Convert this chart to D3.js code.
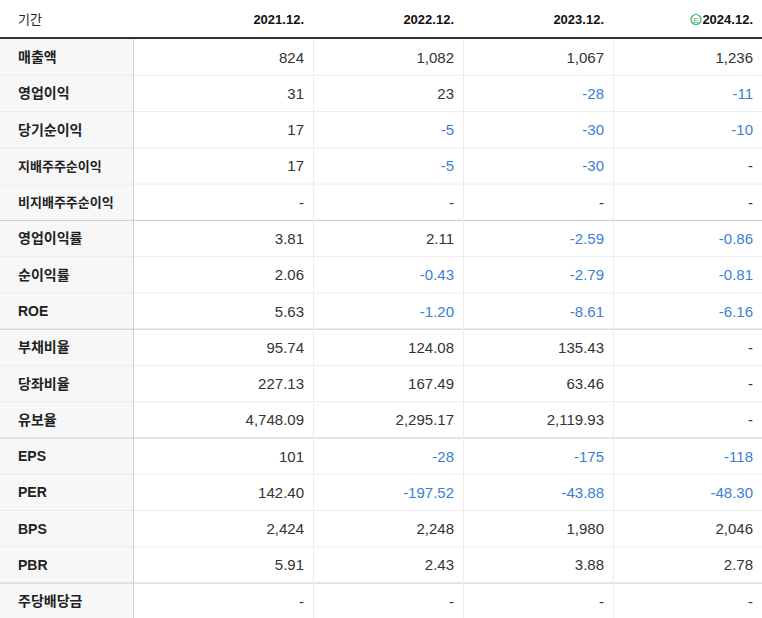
<!DOCTYPE html>
<html><head><meta charset="utf-8">
<script src="https://cdn.jsdelivr.net/npm/d3@7"></script>
<style>body{margin:0;background:#fff}</style></head>
<body><svg id="c" width="762" height="618"></svg>
<script>
const periods=["2021.12.","2022.12.","2023.12.","2024.12."];
const rowLabels=["매출액","영업이익","당기순이익","지배주주순이익","비지배주주순이익","영업이익률","순이익률","ROE","부채비율","당좌비율","유보율","EPS","PER","BPS","PBR","주당배당금"];
const v2021=["824","31","17","17","-","3.81","2.06","5.63","95.74","227.13","4,748.09","101","142.40","2,424","5.91","-"];
const v2022=["1,082","23","-5","-5","-","2.11","-0.43","-1.20","124.08","167.49","2,295.17","-28","-197.52","2,248","2.43","-"];
const v2023=["1,067","-28","-30","-30","-","-2.59","-2.79","-8.61","135.43","63.46","2,119.93","-175","-43.88","1,980","3.88","-"];
const v2024=["1,236","-11","-10","-","-","-0.86","-0.81","-6.16","-","-","-","-118","-48.30","2,046","2.78","-"];
const groupEnds=[4,7,10,14];
const cols=[v2021,v2022,v2023,v2024];
const svg=d3.select("#c");
const font="'Liberation Sans',Arial,'Noto Sans CJK KR',sans-serif";
const colX=[133,313,463,613,762];
const tableTop=39,rh=36.27;
const y=d3.scaleLinear().domain([0,16]).range([tableTop,tableTop+16*rh]);
svg.append("rect").attr("x",0).attr("y",tableTop).attr("width",133).attr("height",16*rh).attr("fill","#f7f7f7");
svg.append("text").attr("x",18).attr("y",24).text("기간").attr("font-family",font).attr("font-size",13).attr("fill","#222");
periods.forEach((p,i)=>{
  svg.append("text").attr("x",colX[i+1]-9).attr("y",24).attr("text-anchor","end").text(p)
   .attr("font-family",font).attr("font-size",13).attr("font-weight","bold").attr("fill","#111");
});
const eg=svg.append("g");
eg.append("circle").attr("cx",696).attr("cy",19.5).attr("r",5).attr("fill","none").attr("stroke","#2fb36b").attr("stroke-width",1.2);
eg.append("text").attr("x",696).attr("y",22.5).attr("text-anchor","middle").text("E").attr("font-family",font).attr("font-size",8).attr("fill","#2fb36b");
rowLabels.forEach((l,r)=>{
  const yc=y(r)+rh/2;
  svg.append("text").attr("x",18).attr("y",yc+5).text(l).attr("font-family",font)
   .attr("font-size",l.length>5?13:14).attr("font-weight","bold").attr("fill","#222");
  cols.forEach((c,i)=>{
    const v=c[r];const neg=v.startsWith("-")&&v.length>1;
    svg.append("text").attr("x",colX[i+1]-9).attr("y",yc+5.5).attr("text-anchor","end").text(v)
     .attr("font-family",font).attr("font-size",15).attr("fill",neg?"#3a7fd5":"#333");
  });
  if(r<15){
    const dark=groupEnds.includes(r);
    svg.append("line").attr("x1",0).attr("x2",762).attr("y1",y(r+1)).attr("y2",y(r+1))
     .attr("stroke",dark?"#c8c8c8":"#ececec").attr("stroke-width",1);
  }
});
colX.slice(0,4).forEach((x,i)=>{
  svg.append("line").attr("x1",x+0.5).attr("x2",x+0.5).attr("y1",tableTop).attr("y2",618)
   .attr("stroke",i===0?"#cfcfcf":"#ededed");
});
svg.append("line").attr("x1",0).attr("x2",762).attr("y1",38).attr("y2",38).attr("stroke","#333").attr("stroke-width",2);
</script></body></html>
